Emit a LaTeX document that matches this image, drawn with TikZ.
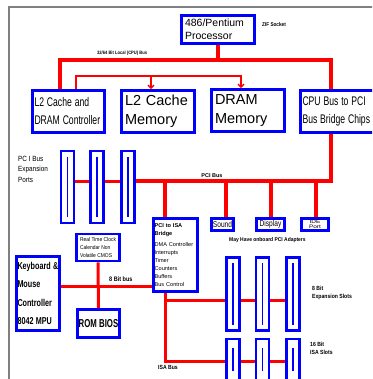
\documentclass[tikz,border=0pt]{standalone}
\usepackage{fontspec}
\setmainfont{Liberation Sans}
\usetikzlibrary{arrows.meta,calc}
\newcommand\nar[2][0.78]{\scalebox{#1}[1]{#2}}
\definecolor{bblue}{RGB}{0,0,255}
\definecolor{rred}{RGB}{255,0,0}
\definecolor{frame}{RGB}{128,128,128}
\tikzset{
  box/.style={draw=bblue,line width=2.6pt,inner sep=2pt,align=left,fill=white},
  slot/.style={draw=bblue,line width=2.6pt,minimum width=13pt,inner sep=0pt,fill=white},
  inner/.style={draw=bblue,line width=1.4pt},
  bus/.style={draw=rred,line width=4pt},
  midbus/.style={draw=rred,line width=3pt},
  thinbus/.style={draw=rred,line width=1.4pt},
  lbl/.style={font=\fontsize{5}{6}\selectfont\bfseries,inner sep=0pt,align=left},
}
\begin{document}
\begin{tikzpicture}[x=1pt,y=-1pt]
\useasboundingbox (0,0) rectangle (372,379);
\clip (0,0) rectangle (372,379);
\fill[white] (0,0) rectangle (372,379);
\draw[frame,line width=2pt] (9,400) -- (9,7) -- (400,7);

% top row
\node[box,minimum width=73pt,minimum height=28pt,text width=66pt,font=\fontsize{10.5}{12.5}\selectfont] (proc) at (218,29.5) {486/Pentium\\Processor};
\node[lbl,anchor=west,font=\fontsize{5.5}{6}\selectfont\bfseries] (zif) at (262,24.5) {\nar[0.85]{ZIF Socket}};
\node[lbl,anchor=west,font=\fontsize{4.8}{5}\selectfont\bfseries] (lcl) at (97,53) {\nar[0.85]{32/64 Bit Local (CPU) Bus}};

\node[box,minimum width=72pt,minimum height=42pt,text width=68pt,font=\fontsize{12.5}{18}\selectfont] (l2c) at (68.5,111.5) {\nar[0.69]{L2 Cache and}\\\nar[0.69]{DRAM Controller}};
\node[box,minimum width=73pt,minimum height=42pt,text width=66pt,font=\fontsize{14.5}{19.5}\selectfont] (l2m) at (158,111.5) {L2 Cache\\Memory};
\node[box,minimum width=73pt,minimum height=42pt,text width=66pt,font=\fontsize{14.5}{19.5}\selectfont] (dram) at (248,110.5) {DRAM\\Memory};
\node[box,minimum width=76pt,minimum height=42pt,text width=72pt,font=\fontsize{12.5}{18}\selectfont] (cpub) at (338.5,111.5) {\nar[0.69]{CPU Bus to PCI}\\\nar[0.69]{Bus Bridge Chips}};

\coordinate (busL) at (60,60);
\coordinate (busR) at (331,60);
\draw[bus] (proc.south) -- (proc.south |- busL);
\draw[bus] (l2c.north -| busL) -- (busL) -- (busR) -- (cpub.north -| busR);
\coordinate (cL) at (76,76);
\coordinate (cR) at (241,76);
\draw[thinbus,-{Straight Barb[length=3pt,width=6pt]}] (l2c.north -| cL) -- (cL) -- (cR) -- (dram.north -| cR);
\draw[thinbus,-{Straight Barb[length=3pt,width=6pt]}] (151,76) -- (l2m.north -| 151,0);

% PCI slots
\node[slot,minimum height=72pt] (p1) at (67.5,187) {};
\node[slot,minimum height=72pt] (p2) at (97,187) {};
\node[slot,minimum height=72pt] (p3) at (128,187) {};
\foreach \s in {p1,p2,p3}{\draw[inner] ([yshift=-7pt]\s.north) -- ([yshift=7pt]\s.south);}
\node[lbl,anchor=north west,font=\fontsize{7.5}{10.5}\selectfont] (pcil) at (18,156) {\nar[0.85]{PC I Bus}\\\nar[0.85]{Expansion}\\\nar[0.85]{Ports}};

\coordinate (pciR) at (331,181);
\draw[bus] (cpub.south -| pciR) -- (pciR) -- (p3.east |- pciR);
\draw[midbus] (p1.east |- pciR) -- (p2.west |- pciR);
\draw[midbus] (p2.east |- pciR) -- (p3.west |- pciR);
\node[lbl,anchor=south,font=\fontsize{5.5}{6}\selectfont\bfseries] (pcibl) at (212,177.5) {PCI Bus};

% PCI devices
\node[box,minimum width=44pt,minimum height=73pt,text width=42pt,anchor=north west,inner sep=1pt,font=\fontsize{5.6}{8}\selectfont] (isa) at (152.3,217.3) {\textbf{PCI to ISA}\\\textbf{Bridge}\\[3pt]DMA Controller\\Interrupts\\Timer\\Counters\\Buffers\\Bus Control};
\node[box,minimum width=22pt,minimum height=12pt,inner sep=0pt,font=\fontsize{8.5}{9}\selectfont] (snd) at (222.5,224.5) {\nar{Sound}};
\node[box,minimum width=28pt,minimum height=12pt,inner sep=0pt,font=\fontsize{8.5}{9}\selectfont] (disp) at (270.5,224.5) {\nar{Display}};
\node[box,minimum width=27pt,minimum height=12pt,inner sep=0pt,align=center,font=\fontsize{5}{5}\selectfont] (ide) at (315,224.5) {\nar[1.3]{IDE}\\\nar[1.3]{Port}};
\node[lbl,anchor=west,font=\fontsize{5.5}{6}\selectfont\bfseries] (may) at (229,240) {\nar[0.9]{May Have onboard PCI Adapters}};

\draw[bus] (165,181) -- (isa.north -| 165,0);
\draw[bus] (226,181) -- (snd.north -| 226,0);
\draw[bus] (271,181) -- (disp.north -| 271,0);
\draw[bus] (316,181) -- (ide.north -| 316,0);

% ISA side
\node[box,minimum width=43pt,minimum height=27pt,inner sep=1pt,font=\fontsize{5.6}{8}\selectfont] (rtc) at (98,247.5) {\nar[0.88]{Real Time Clock}\\\nar[0.88]{Calendar Non}\\\nar[0.88]{Volatile CMOS}};
\node[box,minimum width=43pt,minimum height=74pt,text width=41pt,inner sep=1pt,font=\fontsize{10}{18.5}\selectfont\bfseries] (kbd) at (38,293.5) {\nar[0.72]{Keyboard \&}\\\nar[0.72]{Mouse}\\\nar[0.72]{Controller}\\\nar[0.72]{8042 MPU}};
\node[box,minimum width=42pt,minimum height=28pt,align=center,inner sep=0pt,font=\fontsize{11.5}{12}\selectfont\bfseries] (rom) at (98.5,323.5) {\nar[0.68]{ROM BIOS}};

\coordinate (b8) at (0,286);
\draw[midbus] (kbd.east |- b8) -- (isa.west |- b8);
\draw[midbus] (rtc.south) -- (rom.north);
\node[lbl,anchor=west,font=\fontsize{6.5}{7}\selectfont\bfseries] (b8l) at (109,279.5) {\nar[0.85]{8 Bit bus}};

% 8 bit slots
\node[slot,minimum height=73pt] (e1) at (233,294) {};
\node[slot,minimum height=73pt] (e2) at (262.5,294) {};
\node[slot,minimum height=73pt] (e3) at (293,294) {};
\foreach \s in {e1,e2,e3}{\draw[inner] ([yshift=-7pt]\s.north) -- ([yshift=7pt]\s.south);}
% 16 bit slots
\node[slot,minimum height=66pt] (f1) at (233,372) {};
\node[slot,minimum height=66pt] (f2) at (262.5,372) {};
\node[slot,minimum height=66pt] (f3) at (293,372) {};
\foreach \s in {f1,f2,f3}{\draw[inner] ([yshift=-10pt]\s.north) -- ([yshift=-33pt]\s.north);}

\coordinate (i8) at (165,300);
\coordinate (i16) at (165,361);
\draw[midbus] (isa.south -| i8) -- (i16) -- (f1.west |- i16);
\draw[midbus] (i8) -- (e1.west |- i8);
\draw[midbus] (e1.east |- i8) -- (e2.west |- i8);
\draw[midbus] (e2.east |- i8) -- (e3.west |- i8);
\draw[midbus] (f1.east |- i16) -- (f2.west |- i16);
\draw[midbus] (f2.east |- i16) -- (f3.west |- i16);

\node[lbl,anchor=north west,font=\fontsize{6}{8}\selectfont\bfseries] (e8l) at (312,286) {\nar[0.85]{8 Bit}\\\nar[0.85]{Expansion Slots}};
\node[lbl,anchor=north west,font=\fontsize{6}{8}\selectfont\bfseries] (e16l) at (310,341.5) {\nar[0.85]{16 Bit}\\\nar[0.85]{ISA Slots}};
\node[lbl,anchor=west,font=\fontsize{6}{7}\selectfont\bfseries] (isal) at (158,367) {\nar[0.85]{ISA Bus}};
\end{tikzpicture}
\end{document}
